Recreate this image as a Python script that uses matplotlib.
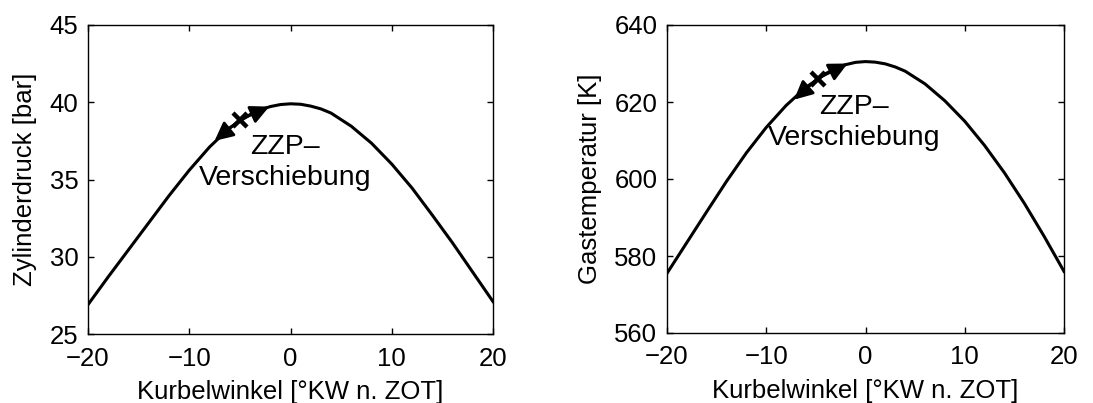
import numpy as np
import matplotlib
matplotlib.use("Agg")
import matplotlib.pyplot as plt

plt.rcParams['font.family'] = ['Liberation Sans', 'DejaVu Sans']

# Kurbelwinkel [°KW n. ZOT]
kw = [-20, -18, -16, -14, -12, -10, -8, -6, -4, -3, -2, -1, 0,
      1, 2, 3, 4, 6, 8, 10, 12, 14, 16, 18, 20]

# Zylinderdruck [bar]
druck = [26.9, 28.7, 30.45, 32.2, 33.95, 35.6, 37.1, 38.35, 39.2, 39.5, 39.72, 39.85, 39.9,
         39.87, 39.75, 39.57, 39.3, 38.45, 37.35, 36.0, 34.45, 32.7, 30.9, 29.0, 27.1]

# Gastemperatur [K]
temp = [575.5, 583.5, 591.5, 599.4, 606.8, 613.4, 619.1, 623.8, 627.4, 628.7, 629.7, 630.3, 630.5,
        630.35, 629.9, 629.1, 628.0, 624.7, 620.3, 615.0, 608.7, 601.6, 593.7, 585.1, 576.0]

# ZZP-Verschiebung: Pfeilspitze frueh, Ausgangspunkt, Pfeilspitze spaet
zzp_kw_p = [-7.5, -5.0, -2.1]
zzp_p = [37.5, 38.85, 39.72]
zzp_kw_t = [-7.2, -4.8, -1.8]
zzp_t = [620.6, 626.1, 630.0]

FS = 18.5


def style_axes(ax, ylim, yticks, ylabel):
    ax.set_xlim(-20, 20)
    ax.set_ylim(*ylim)
    ax.set_xticks([-20, -10, 0, 10, 20])
    ax.set_yticks(yticks)
    ax.tick_params(direction='in', top=True, right=True, length=4, width=1,
                   labelsize=FS)
    ax.tick_params(axis='x', pad=9)
    ax.tick_params(axis='y', pad=7)
    for s in ax.spines.values():
        s.set_linewidth(1.0)
    ax.set_xlabel('Kurbelwinkel [°KW n. ZOT]', fontsize=FS, labelpad=7)
    ax.set_ylabel(ylabel, fontsize=FS, labelpad=9)


def zzp_marks(ax, xs, ys, tx, ty):
    for i in (0, 2):
        ax.annotate('', xy=(xs[i], ys[i]), xytext=(xs[1], ys[1]),
                    arrowprops=dict(arrowstyle='-|>,head_length=0.45,head_width=0.22',
                                    color='k', lw=2, mutation_scale=25,
                                    shrinkA=0, shrinkB=0))
    ax.plot(xs[1], ys[1], 'x', color='k', ms=9.5, mew=3.2)
    ax.text(tx, ty, 'ZZP–\nVerschiebung', ha='center', va='center',
            fontsize=20.5, linespacing=1.22)


fig = plt.figure(figsize=(10.93, 4.03), dpi=100)
ax1 = fig.add_axes([88 / 1093, 69 / 403, 405 / 1093, 309 / 403])
ax2 = fig.add_axes([667 / 1093, 70 / 403, 397 / 1093, 308 / 403])

ax1.plot(kw, druck, color='k', lw=2.2)
style_axes(ax1, (25, 45), [25, 30, 35, 40, 45], 'Zylinderdruck [bar]')
zzp_marks(ax1, zzp_kw_p, zzp_p, -0.5, 36.1)

ax2.plot(kw, temp, color='k', lw=2.2)
style_axes(ax2, (560, 640), [560, 580, 600, 620, 640], 'Gastemperatur [K]')
zzp_marks(ax2, zzp_kw_t, zzp_t, -1.15, 614.7)

fig.savefig('out.png', dpi=100)
